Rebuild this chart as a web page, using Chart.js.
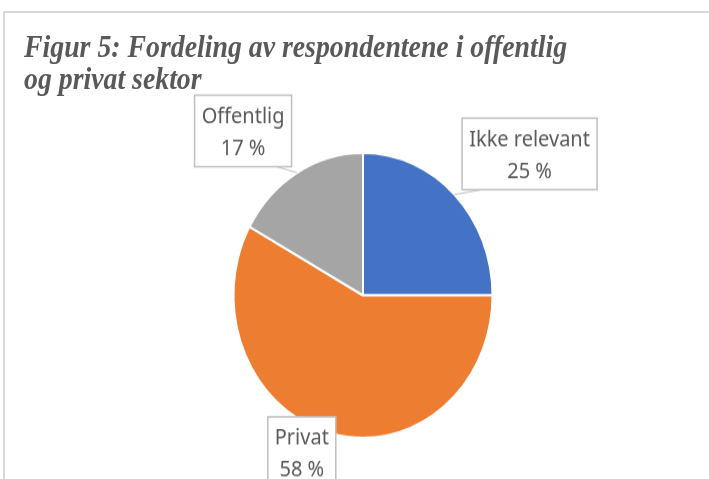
<!DOCTYPE html>
<html>
<head>
<meta charset="utf-8">
<script src="https://cdn.jsdelivr.net/npm/chart.js@4"></script>
<style>
  html, body { margin: 0; padding: 0; background: #fff; overflow: hidden; }
  #frame { position: absolute; left: 3px; top: 11px; width: 720px; height: 480px;
           border-top: 2px solid #d9d9d9; border-left: 2px solid #d9d9d9; }
  #wrap { position: absolute; left: 0; top: 0; width: 709px; height: 436px;
          transform-origin: 0 0; transform: scaleY(1.1); }
  #title { position: absolute; left: 24px; top: 28px; font-family: "Liberation Serif", "Times New Roman", serif;
           font-weight: bold; font-style: italic; font-size: 27.8px; line-height: 29px; color: #595959;
           white-space: nowrap; }
  canvas { position: absolute; left: 0; top: 0; }
</style>
</head>
<body>
<div id="frame"></div>
<div id="wrap">
  <div id="title">Figur 5: Fordeling av respondentene i offentlig<br>og privat sektor</div>
  <canvas id="c" width="709" height="436"></canvas>
</div>
<script>
const categories = ["Ikke relevant", "Privat", "Offentlig"];
const values = [25, 58, 17];
const valueLabels = ["25 %", "58 %", "17 %"];
const colors = ["#4472C4", "#ED7D31", "#A5A5A5"];
// label box offsets relative to the slice edge point at its mid angle
const labelOffsets = [[75, -37], [-29, 17.5], [-54, -38]];

const calloutPlugin = {
  id: 'callouts',
  afterDatasetsDraw(chart) {
    const ctx = chart.ctx;
    const meta = chart.getDatasetMeta(0);
    const font = '20px "Noto Sans", "Open Sans", sans-serif';
    const lineH = 29, padX = 7, padY = 3.5, textShift = 1.5;
    ctx.save();
    ctx.font = font;
    meta.data.forEach((arc, i) => {
      const p = arc.getProps(['x', 'y', 'startAngle', 'endAngle', 'outerRadius'], true);
      const mid = (p.startAngle + p.endAngle) / 2;
      const ex = p.x + Math.cos(mid) * p.outerRadius;
      const ey = p.y + Math.sin(mid) * p.outerRadius;
      const lines = [categories[i], valueLabels[i]];
      const tw = Math.max(...lines.map(l => ctx.measureText(l).width));
      const w = Math.round(tw + 2 * padX), h = 2 * lineH + 2 * padY;
      const cx = ex + labelOffsets[i][0], cy = ey + labelOffsets[i][1];
      const left = cx - w / 2, top = cy - h / 2;
      const inside = ex >= left && ex <= left + w && ey >= top && ey <= top + h;
      if (!inside) {
        const ax = Math.min(Math.max(ex, left + 20), left + w - 15);
        const ay = top + h;
        ctx.strokeStyle = '#bfbfbf';
        ctx.lineWidth = 1;
        ctx.beginPath();
        ctx.moveTo(ax, ay);
        ctx.lineTo(ex, ey);
        ctx.stroke();
      }
      ctx.fillStyle = '#ffffff';
      ctx.fillRect(left, top, w, h);
      ctx.strokeStyle = '#bfbfbf';
      ctx.lineWidth = 1.5;
      ctx.strokeRect(left, top, w, h);
      ctx.fillStyle = '#595959';
      ctx.textAlign = 'center';
      ctx.textBaseline = 'middle';
      lines.forEach((l, k) => ctx.fillText(l, cx, top + padY + textShift + lineH * (k + 0.5)));
    });
    ctx.restore();
  }
};

new Chart(document.getElementById('c'), {
  type: 'pie',
  data: {
    labels: categories,
    datasets: [{
      data: values,
      backgroundColor: colors,
      borderColor: '#ffffff',
      borderWidth: 2
    }]
  },
  options: {
    responsive: false,
    animation: false,
    devicePixelRatio: 1,
    layout: { padding: { left: 17, right: 0, top: 138, bottom: 37 } },
    plugins: { legend: { display: false }, tooltip: { enabled: false }, title: { display: false } }
  },
  plugins: [calloutPlugin]
});
</script>
</body>
</html>
